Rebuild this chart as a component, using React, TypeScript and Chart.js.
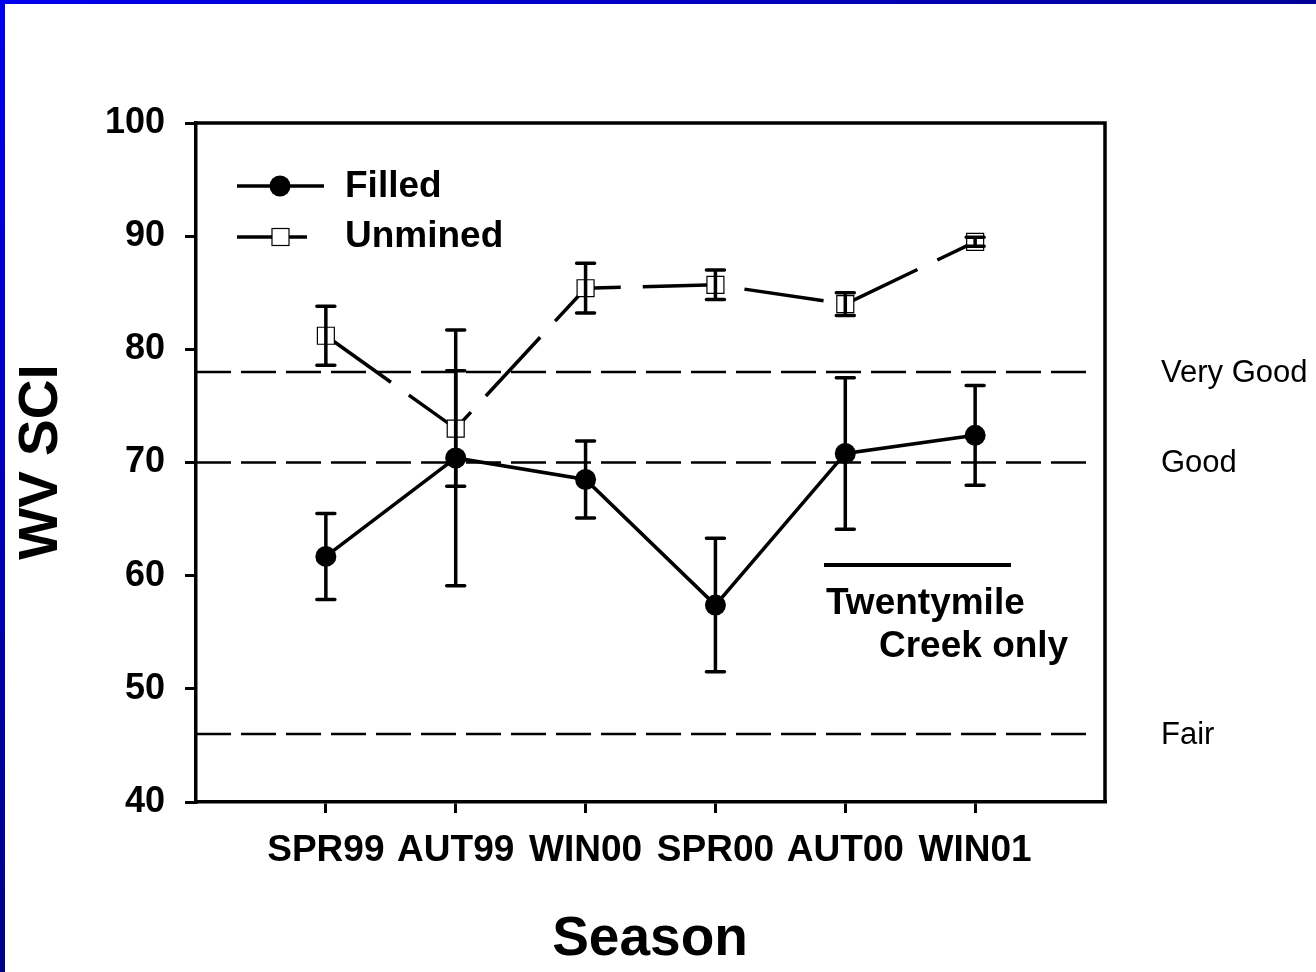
import React, { useEffect, useRef } from 'react';
import { Chart, registerables } from 'chart.js';

Chart.register(...registerables);

const seasons = ['SPR99', 'AUT99', 'WIN00', 'SPR00', 'AUT00', 'WIN01'];
const filledMean = [61.7, 70.4, 68.5, 57.4, 70.8, 72.4];
const filledErr = [3.8, 11.3, 3.4, 5.9, 6.7, 4.4];
const unminedMean = [81.2, 73.0, 85.4, 85.7, 84.0, 89.5];
const unminedErr = [2.6, 5.1, 2.2, 1.3, 1.0, 0.4];
const yTickValues = [40, 50, 60, 70, 80, 90, 100];
const refValues = [78, 70, 46];
const refLabels = ['Very Good', 'Good', 'Fair'];

const FONT = 'Arial, "Liberation Sans", sans-serif';

const framePlugin = {
  id: 'framePlugin',
  beforeDraw(chart: any) {
    const { ctx, width, height } = chart;
    ctx.save();
    ctx.fillStyle = '#ffffff';
    ctx.fillRect(0, 0, width, height);
    const gTop = ctx.createLinearGradient(0, 0, width, 0);
    gTop.addColorStop(0, '#0000ee');
    gTop.addColorStop(1, '#000098');
    ctx.fillStyle = gTop;
    ctx.fillRect(0, 0, width, 4);
    const gLeft = ctx.createLinearGradient(0, 0, 0, height);
    gLeft.addColorStop(0, '#0000ee');
    gLeft.addColorStop(1, '#000088');
    ctx.fillStyle = gLeft;
    ctx.fillRect(0, 0, 5, height);
    ctx.restore();
  },
  beforeDatasetsDraw(chart: any) {
    const { ctx, chartArea, scales } = chart;
    const y = scales.y;
    ctx.save();
    ctx.strokeStyle = '#000';
    ctx.lineWidth = 2.5;
    ctx.setLineDash([35, 10]);
    refValues.forEach((v) => {
      const py = y.getPixelForValue(v);
      ctx.beginPath();
      ctx.moveTo(chartArea.left, py);
      ctx.lineTo(chartArea.right - 10, py);
      ctx.stroke();
    });
    ctx.restore();
  },
  afterDatasetsDraw(chart: any) {
    const { ctx, scales } = chart;
    const x = scales.x;
    const y = scales.y;
    const sets: [number[], number[]][] = [
      [filledMean, filledErr],
      [unminedMean, unminedErr],
    ];
    ctx.save();
    ctx.strokeStyle = '#000';
    ctx.lineWidth = 3.5;
    ctx.lineCap = 'round';
    sets.forEach(([m, e]) => {
      m.forEach((v, i) => {
        const px = x.getPixelForValue(i + 1);
        const top = y.getPixelForValue(v + e[i]);
        const bot = y.getPixelForValue(v - e[i]);
        ctx.beginPath();
        ctx.moveTo(px, top);
        ctx.lineTo(px, bot);
        ctx.moveTo(px - 9, top);
        ctx.lineTo(px + 9, top);
        ctx.moveTo(px - 9, bot);
        ctx.lineTo(px + 9, bot);
        ctx.stroke();
      });
    });
    ctx.restore();
  },
  afterDraw(chart: any) {
    const { ctx, chartArea, scales } = chart;
    const y = scales.y;
    ctx.save();
    ctx.strokeStyle = '#000';
    ctx.lineWidth = 3.5;
    ctx.beginPath();
    ctx.moveTo(chartArea.left, chartArea.top);
    ctx.lineTo(chartArea.right, chartArea.top);
    ctx.lineTo(chartArea.right, chartArea.bottom);
    ctx.stroke();

    // legend
    ctx.lineWidth = 3.5;
    ctx.beginPath();
    ctx.moveTo(237, 186);
    ctx.lineTo(324, 186);
    ctx.stroke();
    ctx.fillStyle = '#000';
    ctx.beginPath();
    ctx.arc(280, 186, 10.5, 0, Math.PI * 2);
    ctx.fill();
    ctx.beginPath();
    ctx.moveTo(237, 237);
    ctx.lineTo(307, 237);
    ctx.stroke();
    ctx.fillStyle = '#fff';
    ctx.fillRect(272, 228.5, 17, 17);
    ctx.lineWidth = 1.2;
    ctx.strokeRect(272, 228.5, 17, 17);

    ctx.fillStyle = '#000';
    ctx.font = `bold 37px ${FONT}`;
    ctx.textAlign = 'left';
    ctx.textBaseline = 'middle';
    ctx.fillText('Filled', 345, 187);
    ctx.fillText('Unmined', 345, 237);

    // annotation
    ctx.lineWidth = 4;
    ctx.beginPath();
    ctx.moveTo(824, 565);
    ctx.lineTo(1011, 565);
    ctx.stroke();
    ctx.fillText('Twentymile', 826, 604);
    ctx.fillText('Creek only', 879, 647);

    // right labels
    ctx.font = `31px ${FONT}`;
    refValues.forEach((v, i) => {
      ctx.fillText(refLabels[i], 1161, y.getPixelForValue(v) + 1);
    });

    // axis titles
    ctx.font = `bold 55px ${FONT}`;
    ctx.textAlign = 'center';
    ctx.fillText('Season', 650, 940);
    ctx.save();
    ctx.translate(42, 462);
    ctx.rotate(-Math.PI / 2);
    ctx.fillText('WV SCI', 0, 0);
    ctx.restore();

    ctx.restore();
  },
};

export default function App() {
  const ref = useRef<HTMLCanvasElement | null>(null);
  useEffect(() => {
    document.body.style.margin = '0';
    const canvas = ref.current;
    if (!canvas) return;
    const chart = new Chart(canvas, {
      type: 'line',
      data: {
        datasets: [
          {
            label: 'Filled',
            data: filledMean.map((v, i) => ({ x: i + 1, y: v })),
            borderColor: '#000',
            borderWidth: 3.5,
            pointStyle: 'circle',
            pointRadius: 10.5,
            pointBackgroundColor: '#000',
            pointBorderColor: '#000',
            pointBorderWidth: 0,
            tension: 0,
          },
          {
            label: 'Unmined',
            data: unminedMean.map((v, i) => ({ x: i + 1, y: v })),
            borderColor: '#000',
            borderWidth: 3.5,
            borderDash: [80, 22],
            pointStyle: 'rect',
            pointRadius: 12,
            pointBackgroundColor: '#fff',
            pointBorderColor: '#000',
            pointBorderWidth: 1.2,
            tension: 0,
          },
        ],
      },
      options: {
        responsive: false,
        devicePixelRatio: 1,
        animation: false,
        layout: { padding: { top: 123, right: 211, left: 0, bottom: 0 } },
        plugins: {
          legend: { display: false },
          tooltip: { enabled: false },
          title: { display: false },
        },
        scales: {
          x: {
            type: 'linear',
            min: 0,
            max: 7,
            afterBuildTicks: (axis: any) => {
              axis.ticks = seasons.map((_, i) => ({ value: i + 1 }));
            },
            afterFit: (axis: any) => {
              axis.height = 170;
            },
            ticks: {
              autoSkip: false,
              maxRotation: 0,
              padding: 16,
              color: '#000',
              font: { family: FONT, size: 37, weight: 'bold' },
              callback: (v: any) => seasons[Number(v) - 1] ?? '',
            },
            grid: {
              drawOnChartArea: false,
              drawTicks: true,
              tickLength: 11,
              color: '#000',
              lineWidth: 3,
            },
            border: { display: true, color: '#000', width: 3.5 },
          },
          y: {
            type: 'linear',
            min: 40,
            max: 100,
            afterBuildTicks: (axis: any) => {
              axis.ticks = yTickValues.map((v) => ({ value: v }));
            },
            afterFit: (axis: any) => {
              axis.width = 196;
            },
            ticks: {
              padding: 20,
              color: '#000',
              font: { family: FONT, size: 36, weight: 'bold' },
            },
            grid: {
              drawOnChartArea: false,
              drawTicks: true,
              tickLength: 11,
              color: '#000',
              lineWidth: 3,
            },
            border: { display: true, color: '#000', width: 3.5 },
          },
        },
      },
      plugins: [framePlugin],
    } as any);
    return () => chart.destroy();
  }, []);
  return (
    <div style={{ width: 1316, height: 972 }}>
      <canvas ref={ref} width={1316} height={972} style={{ display: 'block', width: 1316, height: 972 }} />
    </div>
  );
}
